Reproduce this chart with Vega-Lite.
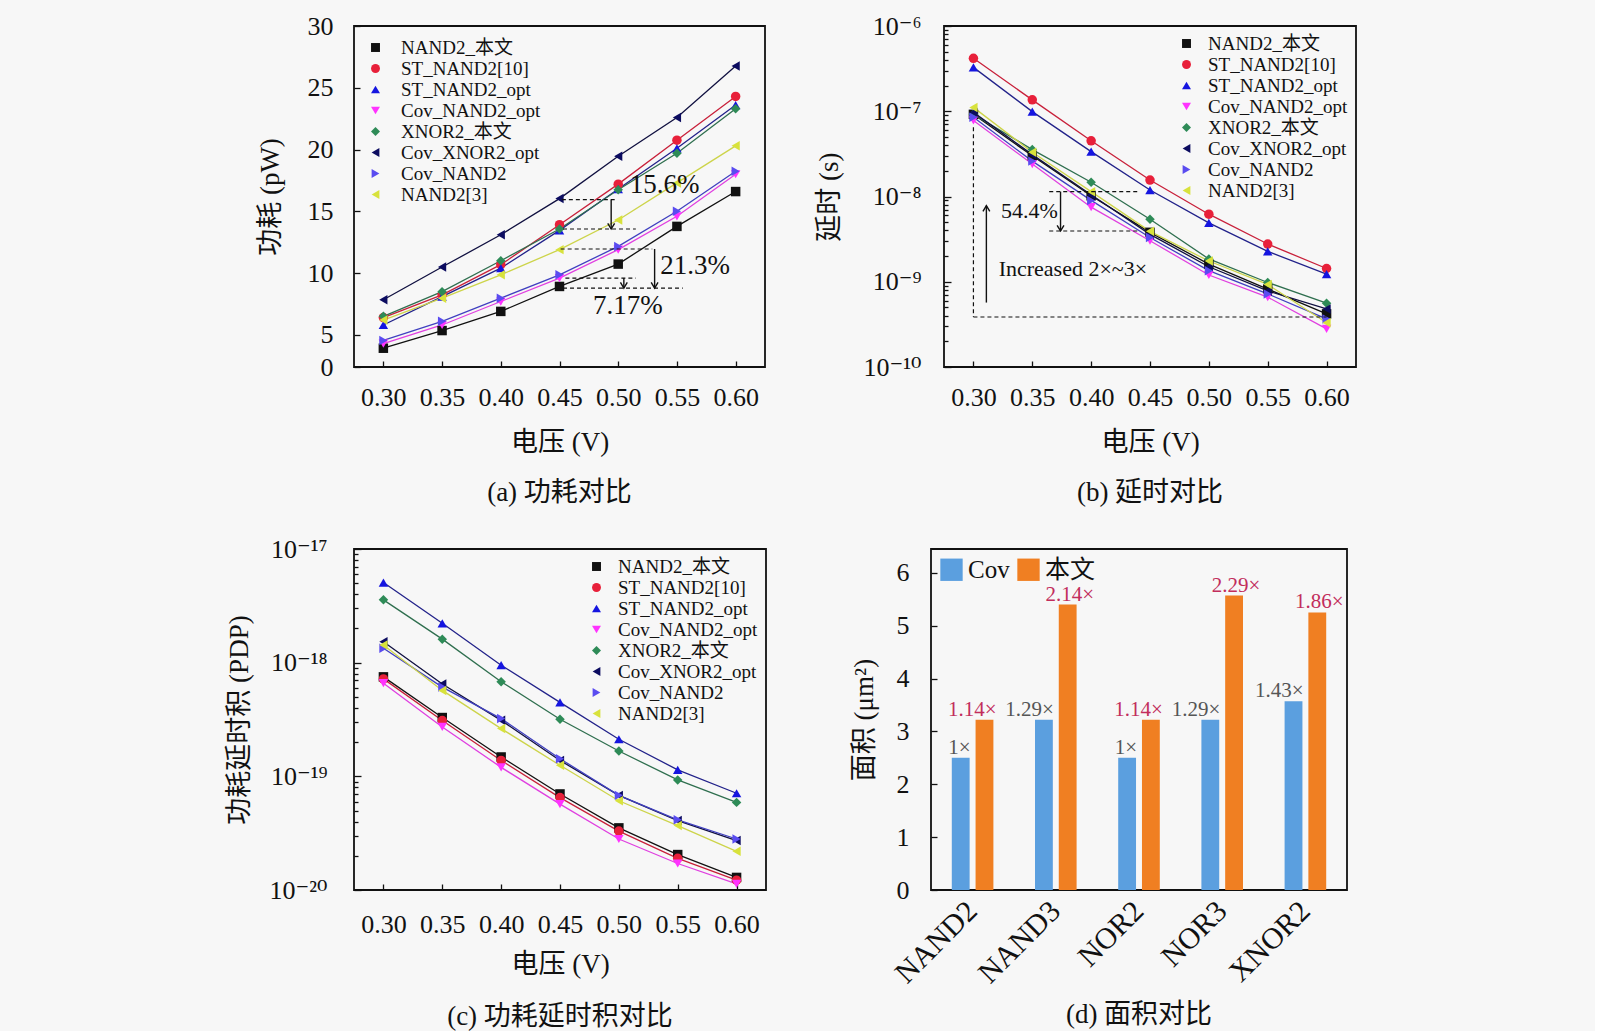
{
  "$schema": "https://vega.github.io/schema/vega-lite/v6.json",
  "background": "#f7f7f7",
  "padding": {"left": 224, "top": 12, "right": 238, "bottom": 0},
  "datasets": {
    "gates": [
      {"series": "NAND2_本文", "v": 0.30, "power": 3.92, "delay": 9.2e-8, "pdp": 7.5e-19},
      {"series": "NAND2_本文", "v": 0.35, "power": 5.35, "delay": 3.0e-8, "pdp": 3.29e-19},
      {"series": "NAND2_本文", "v": 0.40, "power": 6.9, "delay": 1.02e-8, "pdp": 1.48e-19},
      {"series": "NAND2_本文", "v": 0.45, "power": 8.92, "delay": 3.8e-9, "pdp": 7.0e-20},
      {"series": "NAND2_本文", "v": 0.50, "power": 10.73, "delay": 1.61e-9, "pdp": 3.52e-20},
      {"series": "NAND2_本文", "v": 0.55, "power": 13.78, "delay": 8.2e-10, "pdp": 2.05e-20},
      {"series": "NAND2_本文", "v": 0.60, "power": 16.6, "delay": 4.2e-10, "pdp": 1.29e-20},
      {"series": "ST_NAND2[10]", "v": 0.30, "power": 6.4, "delay": 4.18e-7, "pdp": 7.2e-19},
      {"series": "ST_NAND2[10]", "v": 0.35, "power": 8.24, "delay": 1.36e-7, "pdp": 3.1e-19},
      {"series": "ST_NAND2[10]", "v": 0.40, "power": 10.68, "delay": 4.5e-8, "pdp": 1.38e-19},
      {"series": "ST_NAND2[10]", "v": 0.45, "power": 13.92, "delay": 1.56e-8, "pdp": 6.5e-20},
      {"series": "ST_NAND2[10]", "v": 0.50, "power": 17.2, "delay": 6.2e-9, "pdp": 3.3e-20},
      {"series": "ST_NAND2[10]", "v": 0.55, "power": 20.76, "delay": 2.77e-9, "pdp": 1.9e-20},
      {"series": "ST_NAND2[10]", "v": 0.60, "power": 24.3, "delay": 1.43e-9, "pdp": 1.22e-20},
      {"series": "ST_NAND2_opt", "v": 0.30, "power": 5.8, "delay": 3.27e-7, "pdp": 5.07e-18},
      {"series": "ST_NAND2_opt", "v": 0.35, "power": 8.1, "delay": 9.9e-8, "pdp": 2.22e-18},
      {"series": "ST_NAND2_opt", "v": 0.40, "power": 10.4, "delay": 3.36e-8, "pdp": 9.5e-19},
      {"series": "ST_NAND2_opt", "v": 0.45, "power": 13.46, "delay": 1.19e-8, "pdp": 4.47e-19},
      {"series": "ST_NAND2_opt", "v": 0.50, "power": 16.8, "delay": 4.9e-9, "pdp": 2.12e-19},
      {"series": "ST_NAND2_opt", "v": 0.55, "power": 20.1, "delay": 2.27e-9, "pdp": 1.14e-19},
      {"series": "ST_NAND2_opt", "v": 0.60, "power": 23.6, "delay": 1.23e-9, "pdp": 7.1e-20},
      {"series": "Cov_NAND2_opt", "v": 0.30, "power": 4.3, "delay": 7.8e-8, "pdp": 6.6e-19},
      {"series": "Cov_NAND2_opt", "v": 0.35, "power": 5.8, "delay": 2.4e-8, "pdp": 2.72e-19},
      {"series": "Cov_NAND2_opt", "v": 0.40, "power": 7.7, "delay": 7.5e-9, "pdp": 1.2e-19},
      {"series": "Cov_NAND2_opt", "v": 0.45, "power": 9.6, "delay": 3.03e-9, "pdp": 5.7e-20},
      {"series": "Cov_NAND2_opt", "v": 0.50, "power": 11.9, "delay": 1.2e-9, "pdp": 2.81e-20},
      {"series": "Cov_NAND2_opt", "v": 0.55, "power": 14.6, "delay": 6.6e-10, "pdp": 1.71e-20},
      {"series": "Cov_NAND2_opt", "v": 0.60, "power": 18.0, "delay": 2.8e-10, "pdp": 1.13e-20},
      {"series": "XNOR2_本文", "v": 0.30, "power": 6.5, "delay": 9.2e-8, "pdp": 3.57e-18},
      {"series": "XNOR2_本文", "v": 0.35, "power": 8.5, "delay": 3.55e-8, "pdp": 1.61e-18},
      {"series": "XNOR2_本文", "v": 0.40, "power": 11.0, "delay": 1.47e-8, "pdp": 6.8e-19},
      {"series": "XNOR2_本文", "v": 0.45, "power": 13.57, "delay": 5.4e-9, "pdp": 3.18e-19},
      {"series": "XNOR2_本文", "v": 0.50, "power": 16.75, "delay": 1.85e-9, "pdp": 1.67e-19},
      {"series": "XNOR2_本文", "v": 0.55, "power": 19.7, "delay": 9.8e-10, "pdp": 9.3e-20},
      {"series": "XNOR2_本文", "v": 0.60, "power": 23.3, "delay": 5.6e-10, "pdp": 5.9e-20},
      {"series": "Cov_XNOR2_opt", "v": 0.30, "power": 7.84, "delay": 9.7e-8, "pdp": 1.53e-18},
      {"series": "Cov_XNOR2_opt", "v": 0.35, "power": 10.49, "delay": 3.1e-8, "pdp": 6.5e-19},
      {"series": "Cov_XNOR2_opt", "v": 0.40, "power": 13.1, "delay": 1.05e-8, "pdp": 3.11e-19},
      {"series": "Cov_XNOR2_opt", "v": 0.45, "power": 16.03, "delay": 3.6e-9, "pdp": 1.38e-19},
      {"series": "Cov_XNOR2_opt", "v": 0.50, "power": 19.46, "delay": 1.5e-9, "pdp": 6.8e-20},
      {"series": "Cov_XNOR2_opt", "v": 0.55, "power": 22.6, "delay": 7.8e-10, "pdp": 4.08e-20},
      {"series": "Cov_XNOR2_opt", "v": 0.60, "power": 26.76, "delay": 4.8e-10, "pdp": 2.72e-20},
      {"series": "Cov_NAND2", "v": 0.30, "power": 4.55, "delay": 8.5e-8, "pdp": 1.34e-18},
      {"series": "Cov_NAND2", "v": 0.35, "power": 6.1, "delay": 2.6e-8, "pdp": 6.1e-19},
      {"series": "Cov_NAND2", "v": 0.40, "power": 7.97, "delay": 9.0e-9, "pdp": 3.22e-19},
      {"series": "Cov_NAND2", "v": 0.45, "power": 9.86, "delay": 3.3e-9, "pdp": 1.43e-19},
      {"series": "Cov_NAND2", "v": 0.50, "power": 12.16, "delay": 1.35e-9, "pdp": 6.8e-20},
      {"series": "Cov_NAND2", "v": 0.55, "power": 15.0, "delay": 7.2e-10, "pdp": 4.14e-20},
      {"series": "Cov_NAND2", "v": 0.60, "power": 18.24, "delay": 3.66e-10, "pdp": 2.81e-20},
      {"series": "NAND2[3]", "v": 0.30, "power": 6.2, "delay": 1.11e-7, "pdp": 1.43e-18},
      {"series": "NAND2[3]", "v": 0.35, "power": 7.97, "delay": 3.3e-8, "pdp": 5.7e-19},
      {"series": "NAND2[3]", "v": 0.40, "power": 9.86, "delay": 1.14e-8, "pdp": 2.63e-19},
      {"series": "NAND2[3]", "v": 0.45, "power": 11.9, "delay": 3.9e-9, "pdp": 1.25e-19},
      {"series": "NAND2[3]", "v": 0.50, "power": 14.3, "delay": 1.75e-9, "pdp": 6.1e-20},
      {"series": "NAND2[3]", "v": 0.55, "power": 17.3, "delay": 9.3e-10, "pdp": 3.69e-20},
      {"series": "NAND2[3]", "v": 0.60, "power": 20.3, "delay": 3.3e-10, "pdp": 2.19e-20}
    ],
    "area": [
      {"gate": "NAND2", "group": "Cov", "area": 2.5, "label": "1×"},
      {"gate": "NAND2", "group": "本文", "area": 3.22, "label": "1.14×"},
      {"gate": "NAND3", "group": "Cov", "area": 3.22, "label": "1.29×"},
      {"gate": "NAND3", "group": "本文", "area": 5.4, "label": "2.14×"},
      {"gate": "NOR2", "group": "Cov", "area": 2.5, "label": "1×"},
      {"gate": "NOR2", "group": "本文", "area": 3.22, "label": "1.14×"},
      {"gate": "NOR3", "group": "Cov", "area": 3.22, "label": "1.29×"},
      {"gate": "NOR3", "group": "本文", "area": 5.57, "label": "2.29×"},
      {"gate": "XNOR2", "group": "Cov", "area": 3.57, "label": "1.43×"},
      {"gate": "XNOR2", "group": "本文", "area": 5.25, "label": "1.86×"}
    ],
    "a_dash": [
      {"x": 0.452, "x2": 0.497, "y": 15.95, "y2": 15.95},
      {"x": 0.453, "x2": 0.515, "y": 13.57, "y2": 13.57},
      {"x": 0.451, "x2": 0.529, "y": 11.95, "y2": 11.95},
      {"x": 0.455, "x2": 0.515, "y": 9.6, "y2": 9.6},
      {"x": 0.453, "x2": 0.555, "y": 8.79, "y2": 8.79}
    ],
    "a_arrow": [
      {"x": 0.494, "y": 15.95, "y2": 13.57},
      {"x": 0.531, "y": 11.95, "y2": 8.79},
      {"x": 0.5048, "y": 9.6, "y2": 8.79}
    ],
    "a_text": [
      {"x": 0.5396, "y": 17.17, "text": "15.6%"},
      {"x": 0.5655, "y": 10.54, "text": "21.3%"},
      {"x": 0.5082, "y": 7.3, "text": "7.17%"}
    ],
    "b_dash": [
      {"x": 0.3, "x2": 0.3, "y": 6.5e-8, "y2": 3.86e-10},
      {"x": 0.3, "x2": 0.6, "y": 3.86e-10, "y2": 3.86e-10},
      {"x": 0.3644, "x2": 0.4407, "y": 1.14e-8, "y2": 1.14e-8},
      {"x": 0.3644, "x2": 0.4407, "y": 3.94e-9, "y2": 3.94e-9}
    ],
    "b_arrow": [
      {"x": 0.311, "y": 5.7e-10, "y2": 7.8e-9, "dir": "up"},
      {"x": 0.374, "y": 1.14e-8, "y2": 3.94e-9, "dir": "down"}
    ],
    "b_text": [
      {"x": 0.3845, "y": 1.41e-9, "text": "Increased 2×~3×"},
      {"x": 0.3475, "y": 6.8e-9, "text": "54.4%"}
    ]
  },
  "spacing": 28,
  "resolve": {"legend": {"fill": "independent", "shape": "independent", "color": "independent"}},
  "vconcat": [
    {
      "spacing": 48,
      "resolve": {"legend": {"fill": "independent", "shape": "independent", "color": "independent"}},
      "hconcat": [
        {
          "width": 411,
          "height": 341,
          "title": {"text": "(a) 功耗对比", "offset": 25},
          "layer": [
            {
              "data": {"name": "gates"},
              "mark": {"type": "line", "strokeWidth": 1.3},
              "encoding": {
                "x": {"field": "v", "type": "quantitative", "title": "电压 (V)", "scale": {"domain": [0.275, 0.625], "nice": false, "zero": false},
                      "axis": {"values": [0.3, 0.35, 0.4, 0.45, 0.5, 0.55, 0.6], "format": ".2f", "tickSize": -6, "labelPadding": 23, "titlePadding": 19}},
                "y": {"field": "power", "type": "quantitative", "title": "功耗 (pW)", "scale": {"domain": [2.4, 30], "nice": false, "zero": false},
                      "axis": {"values": [2.4, 5, 10, 15, 20, 25, 30], "labelExpr": "datum.value < 3 ? '0' : datum.label", "tickSize": -6, "labelPadding": 27, "titlePadding": 23}},
                "stroke": {"field": "series", "type": "nominal",
                           "scale": {"domain": ["NAND2_本文", "ST_NAND2[10]", "ST_NAND2_opt", "Cov_NAND2_opt", "XNOR2_本文", "Cov_XNOR2_opt", "Cov_NAND2", "NAND2[3]"],
                                     "range": ["#111111", "#c8203a", "#22228a", "#e040e0", "#2f6f4f", "#101040", "#4040c0", "#cdd44a"]},
                           "legend": null}
              }
            },
            {
              "data": {"name": "gates"},
              "mark": {"type": "point", "filled": true, "size": 90, "opacity": 1},
              "encoding": {
                "x": {"field": "v", "type": "quantitative", "title": "电压 (V)"},
                "y": {"field": "power", "type": "quantitative", "title": "功耗 (pW)"},
                "fill": {"field": "series", "type": "nominal",
                         "scale": {"domain": ["NAND2_本文", "ST_NAND2[10]", "ST_NAND2_opt", "Cov_NAND2_opt", "XNOR2_本文", "Cov_XNOR2_opt", "Cov_NAND2", "NAND2[3]"],
                                   "range": ["#111111", "#e8203a", "#1515e0", "#ff33ff", "#2e8b57", "#0c0c60", "#5a4cf0", "#d8e23c"]},
                         "legend": {"title": null, "orient": "top-left", "offset": 12, "labelFontSize": 19, "symbolSize": 80, "rowPadding": 1, "labelOffset": 16, "labelLimit": 300}},
                "shape": {"field": "series", "type": "nominal",
                          "scale": {"domain": ["NAND2_本文", "ST_NAND2[10]", "ST_NAND2_opt", "Cov_NAND2_opt", "XNOR2_本文", "Cov_XNOR2_opt", "Cov_NAND2", "NAND2[3]"],
                                    "range": ["square", "circle", "triangle-up", "triangle-down", "diamond", "triangle-left", "triangle-right", "triangle-left"]},
                          "legend": {"title": null, "orient": "top-left", "offset": 12, "labelFontSize": 19, "symbolSize": 80, "rowPadding": 1, "labelOffset": 16, "labelLimit": 300}}
              }
            },
            {
              "data": {"name": "a_dash"},
              "mark": {"type": "rule", "strokeDash": [4, 3], "strokeWidth": 1.2, "color": "#111111"},
              "encoding": {
                "x": {"field": "x", "type": "quantitative", "title": "电压 (V)"},
                "x2": {"field": "x2"},
                "y": {"field": "y", "type": "quantitative", "title": "功耗 (pW)"},
                "y2": {"field": "y2"}
              }
            },
            {
              "data": {"name": "a_arrow"},
              "mark": {"type": "rule", "strokeWidth": 1.4, "color": "#111111"},
              "encoding": {
                "x": {"field": "x", "type": "quantitative", "title": "电压 (V)"},
                "y": {"field": "y", "type": "quantitative", "title": "功耗 (pW)"},
                "y2": {"field": "y2"}
              }
            },
            {
              "data": {"name": "a_arrow"},
              "mark": {"type": "point", "shape": "M -0.6 -1 L 0 0 L 0.6 -1", "size": 130, "filled": false, "stroke": "#111111", "strokeWidth": 1.4, "opacity": 1},
              "encoding": {
                "x": {"field": "x", "type": "quantitative", "title": "电压 (V)"},
                "y": {"field": "y2", "type": "quantitative", "title": "功耗 (pW)"}
              }
            },
            {
              "data": {"name": "a_text"},
              "mark": {"type": "text", "fontSize": 27, "color": "#111111"},
              "encoding": {
                "x": {"field": "x", "type": "quantitative", "title": "电压 (V)"},
                "y": {"field": "y", "type": "quantitative", "title": "功耗 (pW)"},
                "text": {"field": "text"}
              }
            }
          ]
        },
        {
          "width": 412,
          "height": 341,
          "title": {"text": "(b) 延时对比", "offset": 25},
          "resolve": {"axis": {"y": "independent"}},
          "layer": [
            {
              "data": {"name": "gates"},
              "mark": {"type": "line", "strokeWidth": 1.3},
              "encoding": {
                "x": {"field": "v", "type": "quantitative", "title": "电压 (V)", "scale": {"domain": [0.275, 0.625], "nice": false, "zero": false},
                      "axis": {"values": [0.3, 0.35, 0.4, 0.45, 0.5, 0.55, 0.6], "format": ".2f", "tickSize": -6, "labelPadding": 23, "titlePadding": 19}},
                "y": {"field": "delay", "type": "quantitative", "scale": {"type": "log", "domain": [1e-10, 1e-6], "nice": false},
                      "axis": {"values": [1e-10, 1e-9, 1e-8, 1e-7, 1e-6], "labelExpr": "datum.value == 1e-6 ? '10⁻⁶' : datum.value == 1e-7 ? '10⁻⁷' : datum.value == 1e-8 ? '10⁻⁸' : datum.value == 1e-9 ? '10⁻⁹' : '10⁻¹⁰'", "title": "延时 (s)", "tickSize": -7, "labelPadding": 30, "titlePadding": 20}},
                "stroke": {"field": "series", "type": "nominal",
                           "scale": {"domain": ["NAND2_本文", "ST_NAND2[10]", "ST_NAND2_opt", "Cov_NAND2_opt", "XNOR2_本文", "Cov_XNOR2_opt", "Cov_NAND2", "NAND2[3]"],
                                     "range": ["#111111", "#c8203a", "#22228a", "#e040e0", "#2f6f4f", "#101040", "#4040c0", "#cdd44a"]},
                           "legend": null}
              }
            },
            {
              "data": {"name": "gates"},
              "mark": {"type": "point", "filled": true, "size": 90, "opacity": 1},
              "encoding": {
                "x": {"field": "v", "type": "quantitative", "title": "电压 (V)"},
                "y": {"field": "delay", "type": "quantitative", "scale": {"type": "log"},
                      "axis": {"orient": "left", "values": [2e-10, 3e-10, 4e-10, 5e-10, 6e-10, 7e-10, 8e-10, 9e-10, 2e-9, 3e-9, 4e-9, 5e-9, 6e-9, 7e-9, 8e-9, 9e-9, 2e-8, 3e-8, 4e-8, 5e-8, 6e-8, 7e-8, 8e-8, 9e-8, 2e-7, 3e-7, 4e-7, 5e-7, 6e-7, 7e-7, 8e-7, 9e-7], "labels": false, "title": null, "tickSize": -4}},
                "fill": {"field": "series", "type": "nominal",
                         "scale": {"domain": ["NAND2_本文", "ST_NAND2[10]", "ST_NAND2_opt", "Cov_NAND2_opt", "XNOR2_本文", "Cov_XNOR2_opt", "Cov_NAND2", "NAND2[3]"],
                                   "range": ["#111111", "#e8203a", "#1515e0", "#ff33ff", "#2e8b57", "#0c0c60", "#5a4cf0", "#d8e23c"]},
                         "legend": {"title": null, "orient": "top-right", "offset": 8, "labelFontSize": 19, "symbolSize": 80, "rowPadding": 1, "labelOffset": 12, "labelLimit": 300}},
                "shape": {"field": "series", "type": "nominal",
                          "scale": {"domain": ["NAND2_本文", "ST_NAND2[10]", "ST_NAND2_opt", "Cov_NAND2_opt", "XNOR2_本文", "Cov_XNOR2_opt", "Cov_NAND2", "NAND2[3]"],
                                    "range": ["square", "circle", "triangle-up", "triangle-down", "diamond", "triangle-left", "triangle-right", "triangle-left"]},
                          "legend": {"title": null, "orient": "top-right", "offset": 8, "labelFontSize": 19, "symbolSize": 80, "rowPadding": 1, "labelOffset": 12, "labelLimit": 300}}
              }
            },
            {
              "data": {"name": "b_dash"},
              "mark": {"type": "rule", "strokeDash": [4, 3], "strokeWidth": 1.2, "color": "#111111"},
              "encoding": {
                "x": {"field": "x", "type": "quantitative", "title": "电压 (V)"},
                "x2": {"field": "x2"},
                "y": {"field": "y", "type": "quantitative", "scale": {"type": "log"}, "axis": null},
                "y2": {"field": "y2"}
              }
            },
            {
              "data": {"name": "b_arrow"},
              "mark": {"type": "rule", "strokeWidth": 1.4, "color": "#111111"},
              "encoding": {
                "x": {"field": "x", "type": "quantitative", "title": "电压 (V)"},
                "y": {"field": "y", "type": "quantitative", "scale": {"type": "log"}, "axis": null},
                "y2": {"field": "y2"}
              }
            },
            {
              "data": {"name": "b_arrow"},
              "transform": [{"filter": "datum.dir == 'down'"}],
              "mark": {"type": "point", "shape": "M -0.6 -1 L 0 0 L 0.6 -1", "size": 130, "filled": false, "stroke": "#111111", "strokeWidth": 1.4, "opacity": 1},
              "encoding": {
                "x": {"field": "x", "type": "quantitative", "title": "电压 (V)"},
                "y": {"field": "y2", "type": "quantitative", "scale": {"type": "log"}, "axis": null}
              }
            },
            {
              "data": {"name": "b_arrow"},
              "transform": [{"filter": "datum.dir == 'up'"}],
              "mark": {"type": "point", "shape": "M -0.6 1 L 0 0 L 0.6 1", "size": 130, "filled": false, "stroke": "#111111", "strokeWidth": 1.4, "opacity": 1},
              "encoding": {
                "x": {"field": "x", "type": "quantitative", "title": "电压 (V)"},
                "y": {"field": "y2", "type": "quantitative", "scale": {"type": "log"}, "axis": null}
              }
            },
            {
              "data": {"name": "b_text"},
              "mark": {"type": "text", "fontSize": 22, "color": "#111111"},
              "encoding": {
                "x": {"field": "x", "type": "quantitative", "title": "电压 (V)"},
                "y": {"field": "y", "type": "quantitative", "scale": {"type": "log"}, "axis": null},
                "text": {"field": "text"}
              }
            }
          ]
        }
      ]
    },
    {
      "spacing": 82,
      "resolve": {"legend": {"fill": "independent", "shape": "independent", "color": "independent"}},
      "hconcat": [
        {
          "width": 412,
          "height": 341,
          "title": {"text": "(c) 功耗延时积对比", "offset": 27},
          "resolve": {"axis": {"y": "independent"}},
          "data": {"name": "gates"},
          "layer": [
            {
              "mark": {"type": "line", "strokeWidth": 1.3},
              "encoding": {
                "x": {"field": "v", "type": "quantitative", "title": "电压 (V)", "scale": {"domain": [0.275, 0.625], "nice": false, "zero": false},
                      "axis": {"values": [0.3, 0.35, 0.4, 0.45, 0.5, 0.55, 0.6], "format": ".2f", "tickSize": -6, "labelPadding": 27, "titlePadding": 14}},
                "y": {"field": "pdp", "type": "quantitative", "scale": {"type": "log", "domain": [1e-20, 1e-17], "nice": false},
                      "axis": {"values": [1e-20, 1e-19, 1e-18, 1e-17], "labelExpr": "datum.value == 1e-17 ? '10⁻¹⁷' : datum.value == 1e-18 ? '10⁻¹⁸' : datum.value == 1e-19 ? '10⁻¹⁹' : '10⁻²⁰'", "title": "功耗延时积 (PDP)", "tickSize": -7, "labelPadding": 34, "titlePadding": 16}},
                "stroke": {"field": "series", "type": "nominal",
                           "scale": {"domain": ["NAND2_本文", "ST_NAND2[10]", "ST_NAND2_opt", "Cov_NAND2_opt", "XNOR2_本文", "Cov_XNOR2_opt", "Cov_NAND2", "NAND2[3]"],
                                     "range": ["#111111", "#c8203a", "#22228a", "#e040e0", "#2f6f4f", "#101040", "#4040c0", "#cdd44a"]},
                           "legend": null}
              }
            },
            {
              "mark": {"type": "point", "filled": true, "size": 90, "opacity": 1},
              "encoding": {
                "x": {"field": "v", "type": "quantitative", "title": "电压 (V)"},
                "y": {"field": "pdp", "type": "quantitative", "scale": {"type": "log"},
                      "axis": {"orient": "left", "values": [2e-20, 3e-20, 4e-20, 5e-20, 6e-20, 7e-20, 8e-20, 9e-20, 2e-19, 3e-19, 4e-19, 5e-19, 6e-19, 7e-19, 8e-19, 9e-19, 2e-18, 3e-18, 4e-18, 5e-18, 6e-18, 7e-18, 8e-18, 9e-18], "labels": false, "title": null, "tickSize": -4}},
                "fill": {"field": "series", "type": "nominal",
                         "scale": {"domain": ["NAND2_本文", "ST_NAND2[10]", "ST_NAND2_opt", "Cov_NAND2_opt", "XNOR2_本文", "Cov_XNOR2_opt", "Cov_NAND2", "NAND2[3]"],
                                   "range": ["#111111", "#e8203a", "#1515e0", "#ff33ff", "#2e8b57", "#0c0c60", "#5a4cf0", "#d8e23c"]},
                         "legend": {"title": null, "orient": "top-right", "offset": 8, "labelFontSize": 19, "symbolSize": 80, "rowPadding": 1, "labelOffset": 12, "labelLimit": 300}},
                "shape": {"field": "series", "type": "nominal",
                          "scale": {"domain": ["NAND2_本文", "ST_NAND2[10]", "ST_NAND2_opt", "Cov_NAND2_opt", "XNOR2_本文", "Cov_XNOR2_opt", "Cov_NAND2", "NAND2[3]"],
                                    "range": ["square", "circle", "triangle-up", "triangle-down", "diamond", "triangle-left", "triangle-right", "triangle-left"]},
                          "legend": {"title": null, "orient": "top-right", "offset": 8, "labelFontSize": 19, "symbolSize": 80, "rowPadding": 1, "labelOffset": 12, "labelLimit": 300}}
              }
            }
          ]
        },
        {
          "width": 416,
          "height": 341,
          "title": {"text": "(d) 面积对比", "offset": 14},
          "data": {"name": "area"},
          "encoding": {
            "x": {"field": "gate", "type": "nominal", "sort": null, "scale": {"paddingInner": 0.5, "paddingOuter": 0.25},
                  "axis": {"title": null, "labelAngle": -45, "labelAlign": "right", "labelBaseline": "middle", "ticks": false, "labelPadding": 16, "labelFontSize": 30}},
            "xOffset": {"field": "group", "type": "nominal", "sort": ["Cov", "本文"], "scale": {"paddingInner": 0.25, "paddingOuter": 0}}
          },
          "layer": [
            {
              "mark": {"type": "bar"},
              "encoding": {
                "y": {"field": "area", "type": "quantitative", "title": "面积 (μm²)", "scale": {"domain": [0, 6.45], "nice": false},
                      "axis": {"values": [0, 1, 2, 3, 4, 5, 6], "tickSize": -6, "labelPadding": 28, "titlePadding": 18}},
                "color": {"field": "group", "type": "nominal", "sort": ["Cov", "本文"],
                          "scale": {"domain": ["Cov", "本文"], "range": ["#5b9fdf", "#f07f22"]},
                          "legend": {"title": null, "orient": "top-left", "direction": "horizontal", "offset": 8, "symbolType": "square", "symbolSize": 500, "labelFontSize": 25, "labelOffset": 4, "columnPadding": 6}}
              }
            },
            {
              "transform": [{"filter": "datum.group == 'Cov'"}],
              "mark": {"type": "text", "align": "right", "baseline": "alphabetic", "dx": 10, "dy": -4, "fontSize": 21, "color": "#555555"},
              "encoding": {
                "y": {"field": "area", "type": "quantitative", "title": "面积 (μm²)"},
                "text": {"field": "label"}
              }
            },
            {
              "transform": [{"filter": "datum.group != 'Cov' && datum.area < 4.5"}],
              "mark": {"type": "text", "align": "right", "baseline": "alphabetic", "dx": 12, "dy": -4, "fontSize": 21, "color": "#c22d5c"},
              "encoding": {
                "y": {"field": "area", "type": "quantitative", "title": "面积 (μm²)"},
                "text": {"field": "label"}
              }
            },
            {
              "transform": [{"filter": "datum.group != 'Cov' && datum.area >= 4.5"}],
              "mark": {"type": "text", "align": "center", "baseline": "alphabetic", "dx": 2, "dy": -4, "fontSize": 21, "color": "#c22d5c"},
              "encoding": {
                "y": {"field": "area", "type": "quantitative", "title": "面积 (μm²)"},
                "text": {"field": "label"}
              }
            }
          ]
        }
      ]
    }
  ],
  "config": {
    "font": "Liberation Serif, DejaVu Serif, Noto Sans CJK SC",
    "view": {"stroke": "#111111", "strokeWidth": 1.8},
    "axis": {"domain": false, "grid": false, "tickColor": "#111111", "tickWidth": 1.3, "labelFontSize": 26, "titleFontSize": 27, "titleFontWeight": "normal", "labelColor": "#111111", "titleColor": "#111111", "labelFont": "Liberation Serif, DejaVu Serif, Noto Sans CJK SC", "titleFont": "Liberation Serif, DejaVu Serif, Noto Sans CJK SC"},
    "legend": {"labelFont": "Liberation Serif, DejaVu Serif, Noto Sans CJK SC", "labelColor": "#111111", "padding": 0},
    "title": {"fontSize": 27, "fontWeight": "normal", "color": "#111111", "orient": "bottom", "font": "Liberation Serif, DejaVu Serif, Noto Sans CJK SC"},
    "text": {"font": "Liberation Serif, DejaVu Serif, Noto Sans CJK SC"}
  }
}
